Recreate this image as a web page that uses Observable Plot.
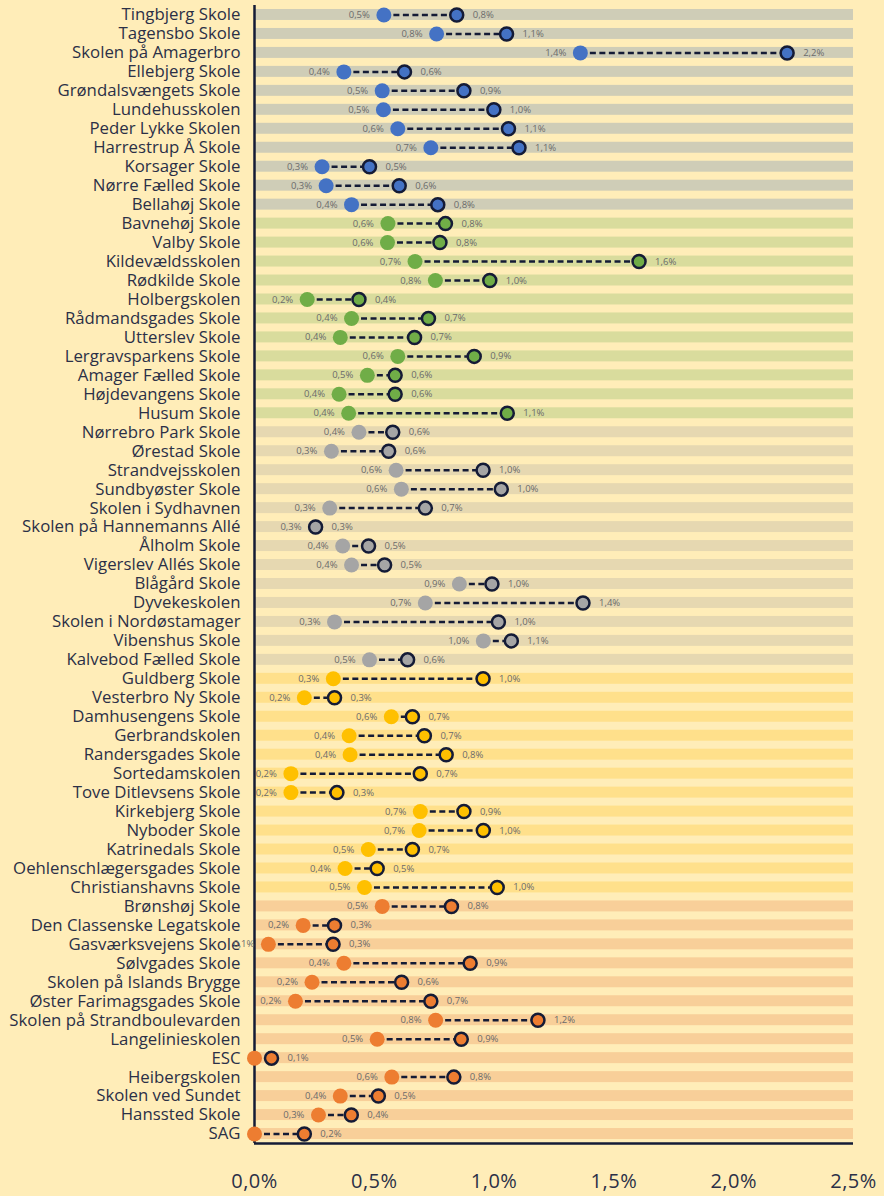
<!DOCTYPE html>
<html>
<head>
<meta charset="utf-8">
<script src="https://cdn.jsdelivr.net/npm/d3@7"></script>
<script src="https://cdn.jsdelivr.net/npm/@observablehq/plot@0.6"></script>
<style>
  html, body { margin: 0; padding: 0; background: #ffedb8; }
  #chart svg [aria-label^="y-axis"] text { font-size: 16.8px; letter-spacing: 0px; }
  #chart svg [aria-label^="x-axis"] text { font-size: 20px; letter-spacing: 0.5px; }
</style>
</head>
<body>
<div id="chart"></div>
<script>
const schools = [
  "Tingbjerg Skole", "Tagensbo Skole", "Skolen på Amagerbro", "Ellebjerg Skole",
  "Grøndalsvængets Skole", "Lundehusskolen", "Peder Lykke Skolen", "Harrestrup Å Skole",
  "Korsager Skole", "Nørre Fælled Skole", "Bellahøj Skole",
  "Bavnehøj Skole", "Valby Skole", "Kildevældsskolen", "Rødkilde Skole", "Holbergskolen",
  "Rådmandsgades Skole", "Utterslev Skole", "Lergravsparkens Skole", "Amager Fælled Skole",
  "Højdevangens Skole", "Husum Skole",
  "Nørrebro Park Skole", "Ørestad Skole", "Strandvejsskolen", "Sundbyøster Skole",
  "Skolen i Sydhavnen", "Skolen på Hannemanns Allé", "Ålholm Skole", "Vigerslev Allés Skole",
  "Blågård Skole", "Dyvekeskolen", "Skolen i Nordøstamager", "Vibenshus Skole",
  "Kalvebod Fælled Skole",
  "Guldberg Skole", "Vesterbro Ny Skole", "Damhusengens Skole", "Gerbrandskolen",
  "Randersgades Skole", "Sortedamskolen", "Tove Ditlevsens Skole", "Kirkebjerg Skole",
  "Nyboder Skole", "Katrinedals Skole", "Oehlenschlægersgades Skole", "Christianshavns Skole",
  "Brønshøj Skole", "Den Classenske Legatskole", "Gasværksvejens Skole", "Sølvgades Skole",
  "Skolen på Islands Brygge", "Øster Farimagsgades Skole", "Skolen på Strandboulevarden",
  "Langelinieskolen", "ESC", "Heibergskolen", "Skolen ved Sundet", "Hanssted Skole", "SAG"
];
const startValues = [
  0.540, 0.760, 1.360, 0.373, 0.533, 0.538, 0.598, 0.736, 0.282, 0.299, 0.405,
  0.557, 0.555, 0.670, 0.755, 0.220, 0.405, 0.358, 0.598, 0.471, 0.353, 0.393,
  0.436, 0.321, 0.591, 0.613, 0.314, 0.255, 0.368, 0.405, 0.855, 0.713, 0.334, 0.955, 0.480,
  0.329, 0.208, 0.571, 0.395, 0.399, 0.152, 0.152, 0.692, 0.687, 0.475, 0.378, 0.459,
  0.533, 0.203, 0.058, 0.373, 0.240, 0.171, 0.756, 0.512, 0.000, 0.573, 0.358, 0.267, 0.000
];
const endValues = [
  0.844, 1.052, 2.223, 0.626, 0.874, 0.999, 1.060, 1.104, 0.480, 0.604, 0.765,
  0.797, 0.774, 1.605, 0.982, 0.436, 0.726, 0.668, 0.917, 0.587, 0.587, 1.055,
  0.577, 0.560, 0.954, 1.030, 0.713, 0.255, 0.476, 0.543, 0.991, 1.371, 1.018, 1.072, 0.639,
  0.954, 0.334, 0.659, 0.709, 0.800, 0.692, 0.344, 0.874, 0.955, 0.659, 0.512, 1.013,
  0.822, 0.334, 0.328, 0.900, 0.614, 0.736, 1.183, 0.863, 0.071, 0.832, 0.517, 0.404, 0.208
];
const groups = [
  ...Array(11).fill("blue"), ...Array(11).fill("green"), ...Array(13).fill("gray"),
  ...Array(12).fill("yellow"), ...Array(13).fill("orange")
];
const xTicks = [0, 0.5, 1, 1.5, 2, 2.5];

const dotColors = {blue: "#4472c4", green: "#70ad47", gray: "#a5a5a5", yellow: "#ffc000", orange: "#ed7d31"};
const stripeColors = {blue: "#cfcdb7", green: "#d9dc9d", gray: "#e6d8b1", yellow: "#ffe08b", orange: "#f8cf99"};
const navy = "#141b36";

const data = schools.map((s, i) => ({school: s, start: startValues[i], end: endValues[i], group: groups[i]}));
const fmt = v => v.toFixed(1).replace(".", ",") + "%";

const W = 884, H = 1196, mT = 5, mB = 53;
const bw = (H - mT - mB) / schools.length;

const chart = Plot.plot({
  width: W,
  height: H,
  marginLeft: 254,
  marginRight: 31,
  marginTop: mT,
  marginBottom: mB,
  style: {background: "#ffedb8", fontFamily: "'Open Sans', sans-serif", color: "#2b3047"},
  color: {type: "identity"},
  x: {domain: [0, 2.5], ticks: xTicks, tickFormat: fmt, tickSize: 0, tickPadding: 30, label: null},
  y: {domain: schools, padding: 0, tickSize: 0, tickPadding: 14, label: null},
  marks: [
    Plot.barX(data, {y: "school", x1: 0, x2: 2.5, fill: d => stripeColors[d.group], insetTop: 4, insetBottom: 4}),
    Plot.ruleX([0], {stroke: navy, strokeWidth: 2.5}),
    Plot.ruleY([schools[schools.length - 1]], {x1: 0, x2: 2.5, dy: bw / 2, stroke: navy, strokeWidth: 2.5}),
    Plot.link(data, {x1: "start", x2: "end", y1: "school", y2: "school", stroke: navy, strokeWidth: 2.5, strokeDasharray: "6,3.5"}),
    Plot.dot(data, {x: "start", y: "school", r: 7.5, fill: d => dotColors[d.group]}),
    Plot.dot(data, {x: "end", y: "school", r: 6.5, fill: d => dotColors[d.group], stroke: navy, strokeWidth: 2.5}),
    Plot.text(data.filter(d => d.start > 0), {x: "start", y: "school", text: d => fmt(d.start), textAnchor: "end", dx: -14, fontSize: 9.5, fill: "#6b6b6b"}),
    Plot.text(data, {x: "end", y: "school", text: d => fmt(d.end), textAnchor: "start", dx: 16, fontSize: 9.5, fill: "#6b6b6b"})
  ]
});
document.getElementById("chart").appendChild(chart);
</script>
</body>
</html>
